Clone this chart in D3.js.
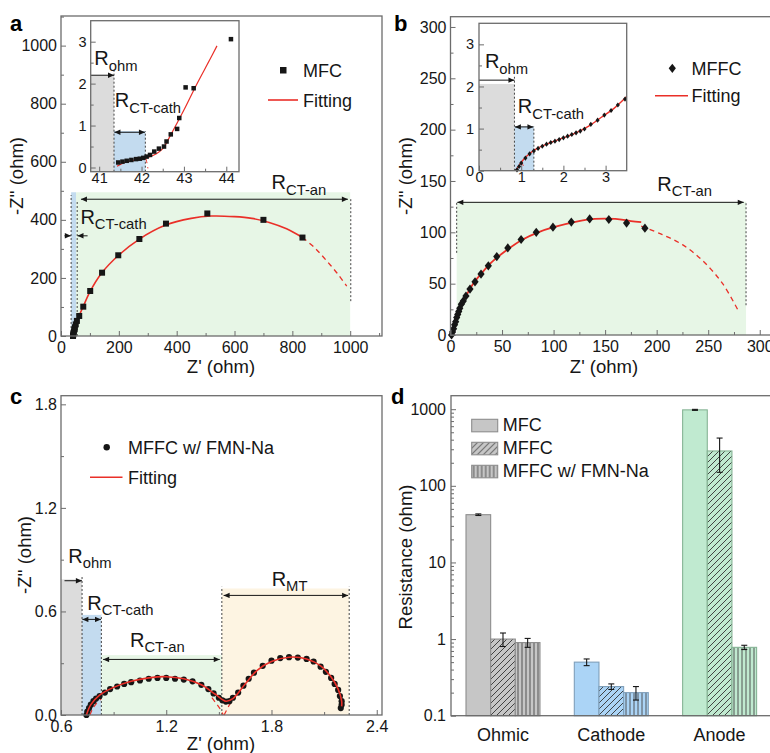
<!doctype html>
<html>
<head>
<meta charset="utf-8">
<title>EIS panels</title>
<script src="https://d3js.org/d3.v7.min.js"></script>
<style>
  body { margin: 0; background: #fff; }
</style>
</head>
<body>
<svg width="770" height="753"></svg>
<script>
// ---------- data ----------
// (a) MFC Nyquist, ohm
const aPtsX = [41.5, 42, 43, 44.5, 46, 48, 51, 55, 63, 77, 101, 142, 198, 271, 363, 506, 700, 835];
const aPtsY = [0, 3, 8, 15, 22, 30, 40, 52, 69, 101, 155, 218, 278, 334, 387, 422, 400, 339];
const aFitX = [41.4, 44, 50, 60, 77, 100, 140, 200, 270, 360, 450, 520, 600, 660, 720, 780, 835];
const aFitY = [0, 15, 36, 63, 102, 152, 216, 279, 333, 381, 405, 413, 411, 405, 391, 369, 339];
const aDashX = [835, 875, 915, 955, 988];
const aDashY = [339, 306, 263, 216, 172];
// (a) inset
const aInX = [41.45, 41.55, 41.65, 41.76, 41.87, 41.96, 42.04, 42.12, 42.2, 42.3, 42.41, 42.53, 42.59, 42.69, 42.84, 42.89, 43.04, 43.23, 44.11];
const aInY = [0.12, 0.14, 0.16, 0.18, 0.2, 0.21, 0.23, 0.26, 0.3, 0.38, 0.45, 0.5, 0.62, 0.79, 0.92, 1.18, 1.91, 1.89, 3.06];
const aInFitX = [41.42, 41.6, 41.8, 42.0, 42.2, 42.35, 42.5, 42.7, 43.0, 43.3, 43.6, 43.78];
const aInFitY = [0.03, 0.12, 0.17, 0.21, 0.26, 0.33, 0.45, 0.8, 1.37, 1.98, 2.55, 2.9];

// (b) MFFC Nyquist, ohm
const bPtsX = [1, 2, 3, 4, 5, 6, 7, 8, 9, 10.5, 12.4, 15, 18.9, 23.8, 29.6, 36.7, 44.9, 55.6, 68.5, 83.2, 99.4, 117.2, 135, 153.6, 170.8, 188.6];
const bPtsY = [0, 3, 6, 10, 13, 17, 20, 23, 26, 30, 33, 38, 44.7, 51.8, 59.3, 67.4, 76.4, 84.8, 93, 100, 105, 110, 113, 112.5, 109, 104];
const bFitX = [1, 3, 6, 10, 15, 22, 30, 40, 55, 70, 85, 100, 120, 140, 160, 175, 185];
const bFitY = [0, 6, 16, 28, 38, 50, 60, 71, 83, 93, 100, 105, 110, 113, 113, 111, 110];
const bDashX = [185, 205, 225, 245, 264, 279];
const bDashY = [106, 98, 88, 72, 50, 24];
// (b) inset
const bInX = [0.9, 0.95, 1.0, 1.1, 1.2, 1.3, 1.4, 1.5, 1.6, 1.7, 1.8, 1.9, 2.0, 2.1, 2.2, 2.3, 2.4, 2.5, 2.65, 2.81, 2.97, 3.13, 3.29, 3.46];
const bInY = [0.02, 0.1, 0.18, 0.3, 0.4, 0.47, 0.53, 0.58, 0.63, 0.67, 0.7, 0.74, 0.78, 0.82, 0.86, 0.9, 0.94, 0.99, 1.1, 1.2, 1.32, 1.43, 1.56, 1.7];
const bInFitX = [0.87, 0.95, 1.05, 1.2, 1.4, 1.7, 2.0, 2.3, 2.6, 2.9, 3.2, 3.5];
const bInFitY = [0, 0.12, 0.26, 0.41, 0.54, 0.67, 0.78, 0.9, 1.06, 1.27, 1.48, 1.76];

// (c) MFFC w/ FMN-Na Nyquist, ohm
const cPtsX = [0.745, 0.75, 0.76, 0.77, 0.785, 0.8, 0.82, 0.85, 0.88, 0.92, 0.96, 1.0, 1.05, 1.1, 1.15, 1.2, 1.25, 1.3, 1.35, 1.4, 1.44, 1.47, 1.5, 1.52, 1.54, 1.56, 1.58, 1.61, 1.64, 1.67, 1.7, 1.75, 1.8, 1.85, 1.9, 1.95, 2.0, 2.04, 2.08, 2.11, 2.14, 2.16, 2.18, 2.19, 2.2, 2.2, 2.195];
const cPtsY = [0.0, 0.02, 0.04, 0.06, 0.08, 0.095, 0.11, 0.13, 0.15, 0.165, 0.18, 0.19, 0.2, 0.21, 0.215, 0.215, 0.21, 0.205, 0.195, 0.175, 0.15, 0.125, 0.1, 0.085, 0.078, 0.08, 0.1, 0.13, 0.17, 0.21, 0.245, 0.285, 0.315, 0.33, 0.335, 0.333, 0.325, 0.31, 0.28, 0.25, 0.215, 0.18, 0.145, 0.11, 0.08, 0.06, 0.04];
const cFitX = [0.745, 0.77, 0.82, 0.9, 1.0, 1.1, 1.2, 1.3, 1.4, 1.48, 1.54, 1.58, 1.65, 1.72, 1.8, 1.9, 2.0, 2.08, 2.14, 2.18, 2.2, 2.2];
const cFitY = [0, 0.06, 0.115, 0.16, 0.195, 0.215, 0.222, 0.21, 0.175, 0.12, 0.08, 0.095, 0.18, 0.26, 0.31, 0.335, 0.325, 0.285, 0.22, 0.15, 0.08, 0.05];
const cDash1X = [0.765, 0.78, 0.8, 0.83];
const cDash1Y = [0, 0.035, 0.065, 0.095];
const cDash2X = [1.46, 1.49, 1.51, 1.525];
const cDash2Y = [0.1, 0.06, 0.03, 0];
const cDash3X = [1.53, 1.55, 1.57, 1.59];
const cDash3Y = [0, 0.04, 0.075, 0.1];

// (d) resistance summary
const categories = ["Ohmic", "Cathode", "Anode"];
const seriesNames = ["MFC", "MFFC", "MFFC w/ FMN-Na"];
const mfcRes = [42, 0.5, 980];
const mfcErr = [1, 0.05, 15];
const mffcRes = [1.0, 0.24, 285];
const mffcErr = [0.2, 0.02, 135];
const fmnRes = [0.9, 0.2, 0.78];
const fmnErr = [0.12, 0.04, 0.05];

// ---------- common bits ----------
const svg = d3.select("svg").style("font-family", "Arial, 'Liberation Sans', sans-serif");
const RED = "#ea2f28", INK = "#161616", FRAME = "#6c6c6c";
const zip = (xs, ys) => xs.map((v, i) => [v, ys[i]]);

const defs = svg.append("defs");
defs.append("marker").attr("id", "ah")
  .attr("viewBox", "0 0 10 10").attr("refX", 10).attr("refY", 5)
  .attr("markerWidth", 7).attr("markerHeight", 6)
  .attr("markerUnits", "userSpaceOnUse").attr("orient", "auto-start-reverse")
  .append("path").attr("d", "M0,0.5L10,5L0,9.5Z").attr("fill", INK);

function pattern(id, bg, kind) {
  const s = kind === "hatch" ? 6 : 4;
  const p = defs.append("pattern").attr("id", id).attr("patternUnits", "userSpaceOnUse")
    .attr("width", s).attr("height", s);
  p.append("rect").attr("width", s).attr("height", s).attr("fill", bg);
  if (kind === "hatch")
    p.append("path").attr("d", "M-1,1L1,-1M0,6L6,0M5,7L7,5").attr("stroke", "#333").attr("stroke-width", 0.9);
  else
    p.append("path").attr("d", "M2,0V4").attr("stroke", "#444").attr("stroke-width", 0.9);
}

function axes(g, x, y, o) {
  const xr = x.range(), yr = y.range();
  const style = sel => {
    sel.select(".domain").remove();
    sel.selectAll("line").attr("stroke", FRAME).attr("stroke-width", 1);
    sel.selectAll("text").attr("font-size", o.fs).attr("fill", INK).attr("font-family", null);
  };
  g.append("g").attr("transform", `translate(0,${yr[0]})`)
    .call(d3.axisBottom(x).tickValues(o.xt).tickFormat(o.xf).tickSizeInner(-5).tickSizeOuter(0).tickPadding(o.xpad))
    .call(style);
  g.append("g").attr("transform", `translate(0,${yr[0]})`)
    .call(d3.axisBottom(x).tickValues(o.xm).tickFormat("").tickSizeInner(-3).tickSizeOuter(0))
    .call(style);
  g.append("g").attr("transform", `translate(${xr[0]},0)`)
    .call(d3.axisLeft(y).tickValues(o.yt).tickFormat(o.yf).tickSizeInner(-5).tickSizeOuter(0).tickPadding(o.ypad))
    .call(style);
  g.append("g").attr("transform", `translate(${xr[0]},0)`)
    .call(d3.axisLeft(y).tickValues(o.ym).tickFormat("").tickSizeInner(-3).tickSizeOuter(0))
    .call(style);
  g.append("rect").attr("x", xr[0]).attr("y", yr[1]).attr("width", xr[1] - xr[0]).attr("height", yr[0] - yr[1])
    .attr("fill", "none").attr("stroke", FRAME).attr("stroke-width", 1.3);
}

function region(g, x, y, x0, x1, y0, y1, fill) {
  g.append("rect").attr("x", x(x0)).attr("y", y(y1)).attr("width", x(x1) - x(x0)).attr("height", y(y0) - y(y1)).attr("fill", fill);
}
function vdash(g, x, y, xv, y0, y1) {
  g.append("line").attr("x1", x(xv)).attr("x2", x(xv)).attr("y1", y(y0)).attr("y2", y(y1))
    .attr("stroke", "#444").attr("stroke-width", 1).attr("stroke-dasharray", "2,2");
}
function arrow(g, x, y, x0, x1, yv, both) {
  g.append("line").attr("x1", x(x0)).attr("x2", x(x1)).attr("y1", y(yv)).attr("y2", y(yv))
    .attr("stroke", INK).attr("stroke-width", 1)
    .attr("marker-end", "url(#ah)").attr("marker-start", both ? "url(#ah)" : null);
}
function curve(g, x, y, pts, dash, w) {
  g.append("path").datum(pts)
    .attr("d", d3.line().x(d => x(d[0])).y(d => y(d[1])).curve(d3.curveCatmullRom.alpha(0.5)))
    .attr("fill", "none").attr("stroke", RED).attr("stroke-width", w || 1.5)
    .attr("stroke-dasharray", dash ? "5,4" : null);
}
function rlabel(g, px, py, main, sub, fs) {
  const t = g.append("text").attr("x", px).attr("y", py).attr("font-size", fs).attr("fill", INK).text(main);
  t.append("tspan").attr("dy", fs * 0.27).attr("font-size", fs * 0.74).text(sub);
}
function squares(g, x, y, pts, s) {
  g.append("g").selectAll("rect").data(pts).join("rect")
    .attr("x", d => x(d[0]) - s / 2).attr("y", d => y(d[1]) - s / 2)
    .attr("width", s).attr("height", s).attr("fill", INK);
}
function diamonds(g, x, y, pts, r) {
  g.append("g").selectAll("path").data(pts).join("path")
    .attr("transform", d => `translate(${x(d[0])},${y(d[1])})`)
    .attr("d", `M0,${-r}L${r * 0.78},0L0,${r}L${-r * 0.78},0Z`).attr("fill", INK);
}
function dots(g, x, y, pts, r) {
  g.append("g").selectAll("circle").data(pts).join("circle")
    .attr("cx", d => x(d[0])).attr("cy", d => y(d[1])).attr("r", r).attr("fill", INK);
}
function title(g, px, py, txt, rot) {
  g.append("text").attr("x", px).attr("y", py).attr("font-size", 18.5).attr("fill", INK)
    .attr("text-anchor", "middle").attr("transform", rot ? `rotate(-90,${px},${py})` : null).text(txt);
}
function letter(px, py, s) {
  svg.append("text").attr("x", px).attr("y", py).attr("font-size", 22).attr("font-weight", "bold").attr("fill", "#000").text(s);
}

const GRAY = "#dcdcdc", BLUE = "#c3dbef", GREEN = "#e7f6e6", YELLOW = "#fdf4e2";

// ================= panel a =================
{
  const g = svg.append("g");
  const x = d3.scaleLinear().domain([0, 1110]).range([61, 382]);
  const y = d3.scaleLinear().domain([0, 1102]).range([336, 16]);

  region(g, x, y, 35, 52, 0, 495, BLUE);
  region(g, x, y, 52, 1000, 0, 495, GREEN);
  vdash(g, x, y, 35, 0, 485);
  vdash(g, x, y, 56, 0, 465);
  vdash(g, x, y, 1002, 120, 475);
  arrow(g, x, y, 69, 992, 471, true);
  arrow(g, x, y, 12, 34, 345, false);
  arrow(g, x, y, 92, 57, 345, false);

  curve(g, x, y, zip(aDashX, aDashY), true, 1.3);
  curve(g, x, y, zip(aFitX, aFitY), false, 1.6);
  squares(g, x, y, zip(aPtsX, aPtsY), 6);

  axes(g, x, y, {
    xt: d3.range(0, 1001, 200), xm: d3.range(100, 1101, 200), xf: d => d, xpad: 6,
    yt: d3.range(0, 1001, 200), ym: d3.range(100, 1101, 200), yf: d => d, ypad: 4, fs: 16
  });

  rlabel(g, x(728), y(505), "R", "CT-an", 20);
  rlabel(g, x(67), y(386), "R", "CT-cath", 20);

  // legend
  g.append("rect").attr("x", 280).attr("y", 67).attr("width", 6.5).attr("height", 6.5).attr("fill", INK);
  g.append("text").attr("x", 303).attr("y", 76.5).attr("font-size", 18).attr("fill", INK).text("MFC");
  g.append("line").attr("x1", 268).attr("x2", 298).attr("y1", 100).attr("y2", 100).attr("stroke", RED).attr("stroke-width", 1.6);
  g.append("text").attr("x", 303).attr("y", 106.5).attr("font-size", 18).attr("fill", INK).text("Fitting");

  title(g, 221, 373, "Z' (ohm)");
  title(g, 22.5, 176, "-Z'' (ohm)", true);

  // inset
  const xi = d3.scaleLinear().domain([40.8, 44.3]).range([90.7, 239]);
  const yi = d3.scaleLinear().domain([-0.1, 3.5]).range([171.7, 20.7]);
  g.append("rect").attr("x", 90.7).attr("y", 20.7).attr("width", 148.3).attr("height", 151).attr("fill", "#fff");
  region(g, xi, yi, 40.8, 41.35, -0.1, 2.2, GRAY);
  region(g, xi, yi, 41.35, 42.09, -0.1, 0.87, BLUE);
  vdash(g, xi, yi, 41.35, -0.1, 2.37);
  vdash(g, xi, yi, 42.09, -0.1, 0.87);
  arrow(g, xi, yi, 40.8, 41.35, 2.2, false);
  arrow(g, xi, yi, 41.36, 42.08, 0.84, true);
  curve(g, xi, yi, [[42.1, 0.22], [42.13, 0.1], [42.15, -0.02]], true, 1);
  curve(g, xi, yi, zip(aInFitX, aInFitY), false, 1.2);
  squares(g, xi, yi, zip(aInX, aInY), 4.5);
  axes(g, xi, yi, {
    xt: [41, 42, 43, 44], xm: [41.5, 42.5, 43.5], xf: d => d, xpad: 1,
    yt: [0, 1, 2, 3], ym: [0.5, 1.5, 2.5], yf: d => d, ypad: 4, fs: 14.5
  });
  rlabel(g, xi(40.885), yi(2.44), "R", "ohm", 20);
  rlabel(g, xi(41.37), yi(1.435), "R", "CT-cath", 20);
}

// ================= panel b =================
{
  const g = svg.append("g");
  const x = d3.scaleLinear().domain([0, 311.4]).range([450.5, 771.5]);
  const y = d3.scaleLinear().domain([0, 310]).range([335, 16.7]);

  region(g, x, y, 6, 286.7, 0, 129.8, GREEN);
  vdash(g, x, y, 6, 80, 130);
  vdash(g, x, y, 286.7, 29, 130);
  arrow(g, x, y, 6.6, 284.5, 129.2, true);

  curve(g, x, y, zip(bDashX, bDashY), true, 1.3);
  curve(g, x, y, zip(bFitX, bFitY), false, 1.8);
  diamonds(g, x, y, zip(bPtsX, bPtsY), 4.6);

  axes(g, x, y, {
    xt: d3.range(0, 301, 50), xm: d3.range(25, 311, 50), xf: d => d, xpad: 6,
    yt: d3.range(0, 301, 50), ym: d3.range(25, 311, 50), yf: d => d, ypad: 4, fs: 16
  });

  rlabel(g, x(200.6), y(140.5), "R", "CT-an", 20);

  g.append("path").attr("transform", "translate(672.3,68.3)").attr("d", "M0,-4.6L3.6,0L0,4.6L-3.6,0Z").attr("fill", INK);
  g.append("text").attr("x", 691.5).attr("y", 74.5).attr("font-size", 18).attr("fill", INK).text("MFFC");
  g.append("line").attr("x1", 655).attr("x2", 688).attr("y1", 95.7).attr("y2", 95.7).attr("stroke", RED).attr("stroke-width", 1.6);
  g.append("text").attr("x", 691.5).attr("y", 102).attr("font-size", 18).attr("fill", INK).text("Fitting");

  title(g, 604, 373, "Z' (ohm)");
  title(g, 411.5, 176, "-Z'' (ohm)", true);

  // inset
  const xi = d3.scaleLinear().domain([0, 3.5]).range([479, 626.7]);
  const yi = d3.scaleLinear().domain([0, 3.5]).range([170.7, 23.3]);
  g.append("rect").attr("x", 479).attr("y", 23.3).attr("width", 147.7).attr("height", 147.4).attr("fill", "#fff");
  region(g, xi, yi, 0, 0.84, 0, 2.06, GRAY);
  region(g, xi, yi, 0.84, 1.3, 0, 1.05, BLUE);
  vdash(g, xi, yi, 0.84, 0, 2.23);
  vdash(g, xi, yi, 1.3, 0, 1.05);
  arrow(g, xi, yi, 0, 0.84, 2.15, false);
  arrow(g, xi, yi, 0.85, 1.29, 1.04, true);
  curve(g, xi, yi, [[1.0, 0.22], [1.05, 0.12], [1.1, 0.04]], true, 1);
  curve(g, xi, yi, zip(bInFitX, bInFitY), false, 1.4);
  diamonds(g, xi, yi, zip(bInX, bInY), 2.6);
  axes(g, xi, yi, {
    xt: [0, 1, 2, 3], xm: [0.5, 1.5, 2.5], xf: d => d, xpad: 1,
    yt: [0, 1, 2, 3], ym: [0.5, 1.5, 2.5], yf: d => d, ypad: 5, fs: 14.5
  });
  rlabel(g, xi(0.14), yi(2.43), "R", "ohm", 20);
  rlabel(g, xi(0.92), yi(1.36), "R", "CT-cath", 20);
}

// ================= panel c =================
{
  const g = svg.append("g");
  const x = d3.scaleLinear().domain([0.6, 2.43]).range([61, 382]);
  const y = d3.scaleLinear().domain([0, 1.85]).range([715, 395.7]);

  region(g, x, y, 0.6, 0.72, 0, 0.786, GRAY);
  region(g, x, y, 0.72, 0.83, 0, 0.58, BLUE);
  region(g, x, y, 0.83, 1.517, 0, 0.347, GREEN);
  region(g, x, y, 1.517, 2.243, 0, 0.733, YELLOW);
  vdash(g, x, y, 0.72, 0, 0.805);
  vdash(g, x, y, 0.83, 0, 0.58);
  vdash(g, x, y, 1.517, 0, 0.743);
  vdash(g, x, y, 2.243, 0, 0.743);
  arrow(g, x, y, 0.62, 0.719, 0.778, false);
  arrow(g, x, y, 0.722, 0.828, 0.554, true);
  arrow(g, x, y, 0.84, 1.505, 0.322, true);
  arrow(g, x, y, 1.527, 2.237, 0.693, true);

  curve(g, x, y, zip(cDash1X, cDash1Y), true, 1.2);
  curve(g, x, y, zip(cDash2X, cDash2Y), true, 1.2);
  curve(g, x, y, zip(cDash3X, cDash3Y), true, 1.2);
  dots(g, x, y, zip(cPtsX, cPtsY), 3.1);
  curve(g, x, y, zip(cFitX, cFitY), false, 1.6);

  axes(g, x, y, {
    xt: [0.6, 1.2, 1.8, 2.4], xm: [0.9, 1.5, 2.1], xf: d3.format(".1f"), xpad: 6,
    yt: [0, 0.6, 1.2, 1.8], ym: [0.3, 0.9, 1.5], yf: d3.format(".1f"), ypad: 4, fs: 16
  });

  rlabel(g, x(0.642), y(0.882), "R", "ohm", 20);
  rlabel(g, x(0.75), y(0.608), "R", "CT-cath", 20);
  rlabel(g, x(0.993), y(0.396), "R", "CT-an", 20);
  rlabel(g, x(1.801), y(0.747), "R", "MT", 20);

  g.append("circle").attr("cx", 106.7).attr("cy", 447.3).attr("r", 3.2).attr("fill", INK);
  g.append("text").attr("x", 128).attr("y", 453.5).attr("font-size", 18).attr("fill", INK).text("MFFC w/ FMN-Na");
  g.append("line").attr("x1", 90).attr("x2", 122.5).attr("y1", 477.3).attr("y2", 477.3).attr("stroke", RED).attr("stroke-width", 1.6);
  g.append("text").attr("x", 128).attr("y", 483.5).attr("font-size", 18).attr("fill", INK).text("Fitting");

  title(g, 221, 750, "Z' (ohm)");
  title(g, 30.5, 555, "-Z'' (ohm)", true);
}

// ================= panel d =================
{
  const g = svg.append("g");
  const fills = ["#c6c6c6", "#abd4f6", "#c0ead0"];
  const strokes = ["#8d8d8d", "#7f9fba", "#86b495"];
  categories.forEach((c, i) => {
    pattern("hatch" + i, fills[i], "hatch");
    pattern("vert" + i, fills[i], "vert");
  });
  const seriesRes = [mfcRes, mffcRes, fmnRes];
  const seriesErr = [mfcErr, mffcErr, fmnErr];
  const seriesFill = [i => fills[i], i => `url(#hatch${i})`, i => `url(#vert${i})`];

  const x = d3.scaleBand().domain(categories).range([451, 771.6]).paddingInner(0.317).paddingOuter(0.1385);
  const xs = d3.scaleBand().domain(seriesNames).range([0, x.bandwidth()]);
  const y = d3.scaleLog().domain([0.1, 1500]).range([715.7, 395.7]);

  const rows = [];
  categories.forEach((c, i) => seriesNames.forEach((s, j) => rows.push({ c, i, s, j, v: seriesRes[j][i], e: seriesErr[j][i] })));

  g.selectAll("rect.bar").data(rows).join("rect").attr("class", "bar")
    .attr("x", d => x(d.c) + xs(d.s)).attr("width", xs.bandwidth())
    .attr("y", d => y(d.v)).attr("height", d => y(0.1) - y(d.v))
    .attr("fill", d => seriesFill[d.j](d.i)).attr("stroke", d => strokes[d.i]).attr("stroke-width", 1.1);

  const eb = g.append("g").selectAll("g").data(rows).join("g")
    .attr("transform", d => `translate(${x(d.c) + xs(d.s) + xs.bandwidth() / 2},0)`);
  eb.append("line").attr("y1", d => y(d.v - d.e)).attr("y2", d => y(d.v + d.e)).attr("stroke", INK).attr("stroke-width", 1.1);
  eb.append("line").attr("x1", -3).attr("x2", 3).attr("y1", d => y(d.v - d.e)).attr("y2", d => y(d.v - d.e)).attr("stroke", INK).attr("stroke-width", 1.1);
  eb.append("line").attr("x1", -3).attr("x2", 3).attr("y1", d => y(d.v + d.e)).attr("y2", d => y(d.v + d.e)).attr("stroke", INK).attr("stroke-width", 1.1);

  // y axis (log)
  const minor = [];
  [0.1, 1, 10, 100, 1000].forEach(p => d3.range(2, 10).forEach(k => { if (p * k <= 1500) minor.push(p * k); }));
  const style = sel => {
    sel.select(".domain").remove();
    sel.selectAll("line").attr("stroke", FRAME);
    sel.selectAll("text").attr("font-size", 16).attr("fill", INK).attr("font-family", null);
  };
  g.append("g").attr("transform", "translate(451,0)")
    .call(d3.axisLeft(y).tickValues([0.1, 1, 10, 100, 1000]).tickFormat(d => String(d)).tickSizeInner(-5).tickSizeOuter(0).tickPadding(5))
    .call(style);
  g.append("g").attr("transform", "translate(451,0)")
    .call(d3.axisLeft(y).tickValues(minor).tickFormat("").tickSizeInner(-3).tickSizeOuter(0))
    .call(style);
  g.append("g").attr("transform", "translate(0,715.7)")
    .call(d3.axisBottom(x).tickSize(0).tickPadding(13))
    .call(style)
    .selectAll("text").attr("font-size", 18);
  g.append("rect").attr("x", 451).attr("y", 395.7).attr("width", 321).attr("height", 320)
    .attr("fill", "none").attr("stroke", FRAME).attr("stroke-width", 1.3);

  // legend
  const lg = g.append("g").selectAll("g").data(seriesNames).join("g")
    .attr("transform", (d, j) => `translate(471.7,${419.3 + j * 23})`);
  lg.append("rect").attr("width", 26).attr("height", 12.5)
    .attr("fill", (d, j) => seriesFill[j](0)).attr("stroke", strokes[0]).attr("stroke-width", 1.1);
  lg.append("text").attr("x", 31).attr("y", 11.5).attr("font-size", 18).attr("fill", INK).text(d => d);

  title(g, 411.5, 557, "Resistance (ohm)", true);
}

letter(10, 31, "a");
letter(394, 31, "b");
letter(10, 404, "c");
letter(391, 404, "d");
</script>
</body>
</html>
